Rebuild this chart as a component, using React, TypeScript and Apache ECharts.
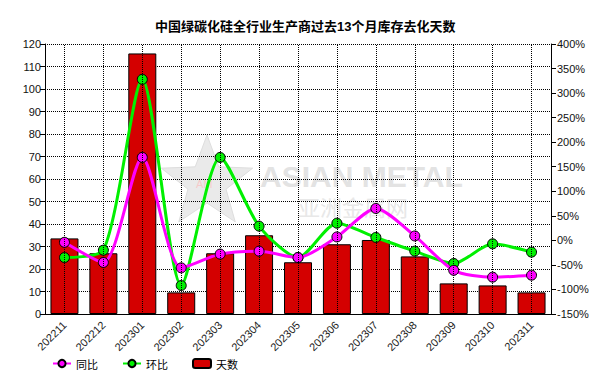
import React, { useEffect, useRef } from "react";
import * as echarts from "echarts";

const categories = [
  "202211", "202212", "202301", "202302", "202303", "202304", "202305",
  "202306", "202307", "202308", "202309", "202310", "202311",
];
const days = [33.6, 27, 115.8, 9.6, 27, 35, 23, 31, 32.9, 25.6, 13.6, 12.7, 9.6];
const yoy = [-4, -45, 169, -56, -28, -22, -35, 7, 65, 9, -61, -75, -71];
const mom = [-35, -20, 328, -92, 169, 29, -35, 35, 6, -22, -47, -7, -24];

const leftTicks = { min: 0, max: 120, interval: 10 };
const rightTicks = { min: -150, max: 400, interval: 50 };

const FONT = "'Liberation Sans', Arial, 'Noto Sans CJK SC', sans-serif";

function starPoints(cx: number, cy: number, R: number, r: number) {
  const pts: number[][] = [];
  for (let i = 0; i < 10; i++) {
    const a = -Math.PI / 2 + (i * Math.PI) / 5;
    const rad = i % 2 === 0 ? R : r;
    pts.push([cx + rad * Math.cos(a), cy + rad * Math.sin(a)]);
  }
  return pts;
}

export default function App() {
  const ref = useRef<HTMLDivElement>(null);
  useEffect(() => {
    if (!ref.current) return;
    const chart = echarts.init(ref.current, undefined, { renderer: "svg" });
    chart.setOption({
      animation: false,
      backgroundColor: "#ffffff",
      textStyle: { fontFamily: FONT },
      title: {
        text: "中国绿碳化硅全行业生产商过去13个月库存去化天数",
        left: 150,
        top: 15,
        textStyle: { fontSize: 13, fontWeight: "bold", color: "#000", fontFamily: FONT },
      },
      graphic: [
        {
          type: "polygon",
          z: -10,
          silent: true,
          shape: { points: starPoints(207, 183, 48, 20) },
          style: { fill: "#eaeaea", stroke: "#dedede", lineWidth: 1 },
        },
        {
          type: "text",
          z: -10,
          silent: true,
          x: 196,
          y: 178,
          style: { text: "AM", fill: "#f6caca", fontSize: 11, fontFamily: FONT },
        },
        {
          type: "text",
          z: -10,
          silent: true,
          x: 260,
          y: 162,
          style: {
            text: "ASIAN METAL",
            fill: "#e3e3e3",
            fontSize: 30,
            lineHeight: 28,
            fontWeight: "bold",
            fontFamily: FONT,
          },
        },
        {
          type: "text",
          z: -10,
          silent: true,
          x: 298,
          y: 195,
          style: {
            text: "亚洲金属网",
            fill: "#e8e8e8",
            fontSize: 22,
            lineHeight: 22,
            fontFamily: "'Noto Sans CJK SC', sans-serif",
          },
        },
      ],
      legend: {
        left: 47,
        top: 353,
        itemWidth: 18,
        itemHeight: 9,
        itemGap: 24,
        data: ["同比", "环比", "天数"],
        textStyle: { fontSize: 11, color: "#000", fontFamily: "'Noto Sans CJK SC', sans-serif" },
      },
      grid: { left: 45, right: 61, top: 44, bottom: 75 },
      xAxis: {
        type: "category",
        data: categories,
        boundaryGap: true,
        axisLine: { lineStyle: { color: "#000", width: 1 } },
        axisTick: { alignWithLabel: true, length: 5, lineStyle: { color: "#000" } },
        axisLabel: {
          rotate: 45,
          interval: 0,
          color: "#222",
          fontSize: 11,
          margin: 9,
          fontFamily: FONT,
        },
        splitLine: { show: false },
      },
      yAxis: [
        {
          type: "value",
          ...leftTicks,
          axisLine: { show: true, lineStyle: { color: "#000" } },
          axisTick: { show: true, length: 5, lineStyle: { color: "#000" } },
          axisLabel: { color: "#111", fontSize: 11, margin: 4, fontFamily: FONT },
          splitLine: { show: true, lineStyle: { color: "#000", type: "dotted", width: 1 } },
        },
        {
          type: "value",
          ...rightTicks,
          position: "right",
          axisLine: { show: true, lineStyle: { color: "#000" } },
          axisTick: { show: true, length: 5, lineStyle: { color: "#000" } },
          axisLabel: { color: "#111", fontSize: 11, margin: 6, formatter: "{value}%", fontFamily: FONT },
          splitLine: { show: false },
        },
      ],
      series: [
        {
          name: "grid-v",
          type: "line",
          data: categories.map(() => "-"),
          z: 1,
          silent: true,
          markLine: {
            silent: true,
            symbol: ["none", "none"],
            label: { show: false },
            lineStyle: { color: "#000", type: "dotted", width: 1 },
            data: categories.map((c) => ({ xAxis: c })),
          },
        },
        {
          name: "天数",
          type: "bar",
          data: days,
          barWidth: 28,
          z: 2,
          itemStyle: { color: "#d40000", borderColor: "#000", borderWidth: 1 },
        },
        {
          name: "环比",
          type: "line",
          yAxisIndex: 1,
          data: mom,
          smooth: 0.25,
          z: 3,
          symbol: "circle",
          symbolSize: 10,
          lineStyle: { color: "#00f000", width: 3 },
          itemStyle: { color: "#00f000", borderColor: "#000", borderWidth: 1 },
        },
        {
          name: "同比",
          type: "line",
          yAxisIndex: 1,
          data: yoy,
          smooth: 0.25,
          z: 4,
          symbol: "circle",
          symbolSize: 10,
          lineStyle: { color: "#ff00ff", width: 3 },
          itemStyle: { color: "#ff00ff", borderColor: "#000", borderWidth: 1 },
        },
      ],
    });
    return () => chart.dispose();
  }, []);
  return (
    <div
      ref={ref}
      style={{ position: "fixed", left: 0, top: 0, width: 612, height: 389 }}
    />
  );
}
